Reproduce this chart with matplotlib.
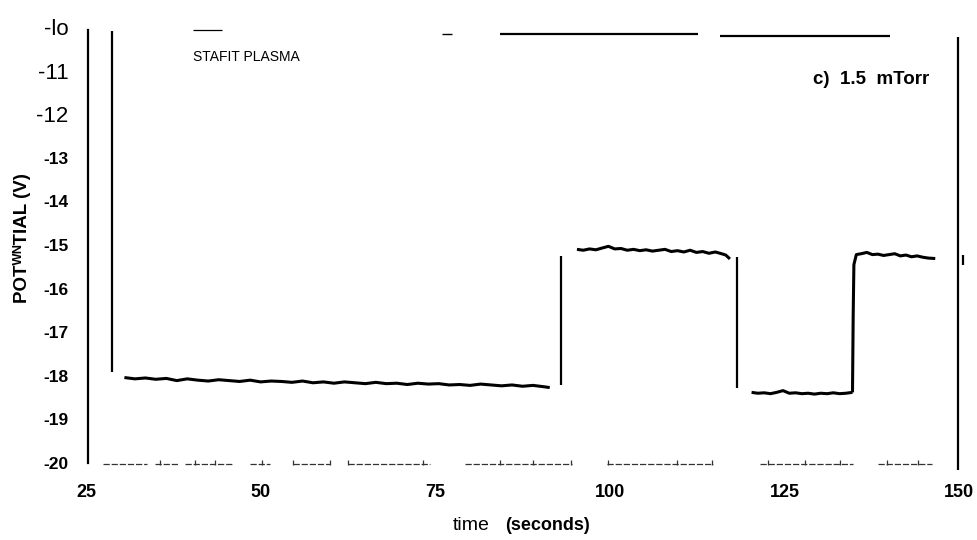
import matplotlib
matplotlib.use("Agg")
import matplotlib.pyplot as plt
from matplotlib import font_manager

# ------------------------------------------------------------------ dados
# traço principal (tempo em s, potencial em V)
t1 = [30.5, 32.0, 33.5, 35.0, 36.5, 38.0, 39.5, 41.0, 42.5, 44.0, 45.5, 47.0,
      48.5, 50.0, 51.5, 53.0, 54.5, 56.0, 57.5, 59.0, 60.5, 62.0, 63.5, 65.0,
      66.5, 68.0, 69.5, 71.0, 72.5, 74.0, 75.5, 77.0, 78.5, 80.0, 81.5, 83.0,
      84.5, 86.0, 87.5, 89.0, 90.5, 91.4]
v1 = [-18.04, -18.07, -18.05, -18.08, -18.06, -18.11, -18.07, -18.10, -18.12, -18.09,
      -18.11, -18.13, -18.10, -18.14, -18.12, -18.13, -18.15, -18.12, -18.16, -18.14,
      -18.17, -18.14, -18.16, -18.18, -18.15, -18.18, -18.17, -18.20, -18.17, -18.19,
      -18.18, -18.21, -18.20, -18.22, -18.19, -18.21, -18.23, -18.21, -18.24, -18.22,
      -18.25, -18.27]

t2 = [95.3, 96.2, 97.1, 98.0, 98.9, 99.8, 100.7, 101.6, 102.5, 103.4, 104.3, 105.2,
      106.1, 107.0, 107.9, 108.8, 109.7, 110.6, 111.5, 112.4, 113.3, 114.2, 115.1,
      116.0, 116.6, 117.2]
v2 = [-15.10, -15.12, -15.09, -15.11, -15.07, -15.03, -15.09, -15.08, -15.12, -15.10,
      -15.13, -15.11, -15.14, -15.12, -15.10, -15.15, -15.13, -15.16, -15.12, -15.17,
      -15.15, -15.19, -15.16, -15.20, -15.23, -15.32]

t3 = [120.3, 121.2, 122.1, 123.0, 123.9, 124.8, 125.7, 126.6, 127.5, 128.4, 129.3,
      130.2, 131.1, 132.0, 132.9, 133.8, 134.75]
v3 = [-18.38, -18.40, -18.39, -18.41, -18.38, -18.34, -18.40, -18.39, -18.41, -18.40,
      -18.42, -18.40, -18.41, -18.39, -18.41, -18.40, -18.38]

t4 = [134.75, 134.85, 134.95, 135.3, 136.0, 136.8, 137.6, 138.4, 139.2, 140.0, 140.8,
      141.6, 142.4, 143.2, 144.0, 144.8, 145.6, 146.6]
v4 = [-18.38, -16.60, -15.45, -15.22, -15.20, -15.17, -15.22, -15.21, -15.24, -15.22,
      -15.20, -15.25, -15.23, -15.27, -15.25, -15.28, -15.30, -15.31]

# marcas verticais (eventos) e a borda direita
vl_t = [28.7, 93.0, 118.2, 149.8]
vl_lo = [-17.91, -18.21, -18.28, -20.16]
vl_hi = [-10.09, -15.25, -15.28, -10.23]

# traços horizontais no topo
hl_v = [-10.07, -10.16, -10.16, -10.21]
hl_ini = [40.3, 76.0, 84.3, 115.8]
hl_fim = [44.5, 77.4, 112.6, 140.1]
hl_lw = [0.9, 1.0, 1.6, 1.6]

# linha de base tracejada em -20 V (trechos e pequenos picos)
base_ini = [27.4, 34.9, 39.2, 48.5, 54.6, 62.5, 79.3, 99.6, 121.5, 138.4]
base_fim = [33.7, 38.2, 46.0, 51.3, 59.9, 74.2, 94.6, 114.8, 134.8, 146.1]
picos_t = [35.6, 40.6, 43.5, 50.2, 54.6, 59.9, 62.5, 73.2, 84.3, 89.0, 94.4,
           99.7, 109.6, 114.6, 122.6, 127.9, 132.9, 139.7, 144.1]

xticks = [25, 50, 75, 100, 125, 150]
yticks = [-10, -11, -12, -13, -14, -15, -16, -17, -18, -19, -20]
ylabels = ["-lo", "-11", "-12", "-13", "-14", "-15", "-16", "-17", "-18", "-19", "-20"]

# ------------------------------------------------------------------ fontes
nomes = {f.name for f in font_manager.fontManager.ttflist}
SANS = "Liberation Sans" if "Liberation Sans" in nomes else "DejaVu Sans"
ESTREITA = "Liberation Sans Narrow" if "Liberation Sans Narrow" in nomes else SANS
plt.rcParams["font.family"] = [SANS, "DejaVu Sans"]

# ------------------------------------------------------------------ figura
fig = plt.figure(figsize=(9.77, 5.4), dpi=100)
ax = fig.add_axes([86 / 977, 1 - 463 / 540, (959 - 86) / 977, (463 - 27) / 540])
ax.set_xlim(25, 150)
ax.set_ylim(-20, -10)

for s in ("top", "right", "bottom"):
    ax.spines[s].set_visible(False)
ax.spines["left"].set_position(("data", 25.3))
ax.spines["left"].set_bounds(-20, -10.07)
ax.spines["left"].set_linewidth(1.6)

k = dict(color="black", solid_capstyle="butt", clip_on=False)
ax.plot(t1, v1, lw=2.2, **k)
ax.plot(t2, v2, lw=2.2, **k)
ax.plot(t3, v3, lw=2.2, **k)
ax.plot(t4, v4, lw=2.2, **k)

ax.vlines(vl_t, vl_lo, vl_hi, color="black", lw=1.6, clip_on=False)
for y, a, b, w in zip(hl_v, hl_ini, hl_fim, hl_lw):
    ax.plot([a, b], [y, y], lw=w, **k)
ax.plot([150.6, 150.6], [-15.23, -15.45], lw=1.6, **k)

for a, b in zip(base_ini, base_fim):
    ax.plot([a, b], [-20.02, -20.02], color="#333333", lw=0.9,
            ls=(0, (5, 1.5)), clip_on=False)
ax.vlines(picos_t, -20.04, -19.93, color="#333333", lw=0.9, clip_on=False)

# eixos
ax.set_xticks(xticks)
ax.set_xticklabels([str(x) for x in xticks], fontsize=13, fontweight="bold")
ax.set_yticks(yticks)
ax.set_yticklabels(ylabels, fontsize=12.5, fontweight="bold")
ax.tick_params(axis="x", length=0, pad=15)
ax.tick_params(axis="y", length=0, pad=14)
for lab in ax.get_yticklabels()[:3]:
    lab.set_fontfamily([ESTREITA, SANS])
    lab.set_fontweight("normal")
    lab.set_fontsize(19 if ESTREITA != SANS else 16)

fig.text(22 / 977, 1 - 238 / 540, "POTᵂᴺTIAL (V)", rotation=90, fontsize=13.5,
         fontweight="bold", ha="center", va="center")
fig.text(490 / 977, 1 - 525 / 540, "time", fontsize=14, ha="right", va="center")
fig.text(505 / 977, 1 - 525 / 540, "(seconds)", fontsize=13, fontweight="bold",
         ha="left", va="center")

ax.text(40.3, -10.68, "STAFIT PLASMA", fontsize=10, ha="left", va="center")
ax.text(145.8, -11.2, "c)  1.5  mTorr", fontsize=13.5, fontweight="bold",
        ha="right", va="center")

fig.savefig("out.png", dpi=100)
